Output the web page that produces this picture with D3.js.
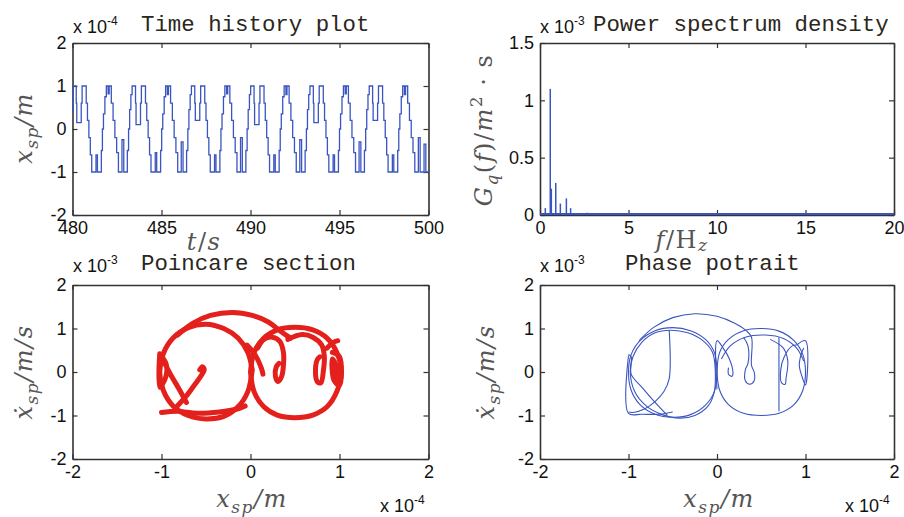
<!DOCTYPE html>
<html>
<head>
<script src="https://cdnjs.cloudflare.com/ajax/libs/d3/7.8.5/d3.min.js"></script>
<style>
  body { margin: 0; background: #fff; }
  .tick text { font-family: "Liberation Sans", Arial, sans-serif; font-size: 18px; fill: #111; }
  .domain, .tick line { stroke: #333; }
  .domain { stroke-width: 1.6px; }
  .title { font-family: "Liberation Mono", "Courier New", monospace; font-size: 22.4px; fill: #2b2620; }
  .expo { font-family: "Liberation Sans", Arial, sans-serif; font-size: 18px; fill: #111; }
  .mathlabel { font-family: "DejaVu Serif", serif; font-size: 24px; fill: #555; font-style: italic; letter-spacing: 1.5px; }
</style>
</head>
<body>
<div id="vis"></div>
<script>
// ---- time history (t in s, x in 1e-4 m) ----
const timeT = [480.00,
  480.02, 480.21, 480.24, 480.49, 480.54, 480.77, 480.84, 480.92, 481.00, 481.08, 481.32, 481.40, 481.62, 481.68, 481.74, 481.82, 481.90, 482.00, 482.06, 482.18, 482.28, 482.38, 482.48, 482.58, 482.78, 482.88, 483.08, 483.15, 483.21, 483.28,
  483.35, 483.54, 483.57, 483.82, 483.87, 484.10, 484.17, 484.25, 484.33, 484.41, 484.65, 484.73, 484.95, 485.01, 485.07, 485.15, 485.23, 485.33, 485.39, 485.51, 485.61, 485.71, 485.81, 485.91, 486.11, 486.21, 486.41, 486.48, 486.54, 486.61,
  486.68, 486.87, 486.90, 487.15, 487.20, 487.43, 487.50, 487.58, 487.66, 487.74, 487.98, 488.06, 488.28, 488.34, 488.40, 488.48, 488.56, 488.66, 488.72, 488.84, 488.94, 489.04, 489.14, 489.24, 489.44, 489.54, 489.74, 489.81, 489.87, 489.94,
  490.01, 490.20, 490.23, 490.48, 490.53, 490.76, 490.83, 490.91, 490.99, 491.07, 491.31, 491.39, 491.61, 491.67, 491.73, 491.81, 491.89, 491.99, 492.05, 492.17, 492.27, 492.37, 492.47, 492.57, 492.77, 492.87, 493.07, 493.14, 493.20, 493.27,
  493.34, 493.53, 493.56, 493.81, 493.86, 494.09, 494.16, 494.24, 494.32, 494.40, 494.64, 494.72, 494.94, 495.00, 495.06, 495.14, 495.22, 495.32, 495.38, 495.50, 495.60, 495.70, 495.80, 495.90, 496.10, 496.20, 496.40, 496.47, 496.53, 496.60,
  496.67, 496.86, 496.89, 497.14, 497.19, 497.42, 497.49, 497.57, 497.65, 497.73, 497.97, 498.05, 498.27, 498.33, 498.39, 498.47, 498.55, 498.65, 498.71, 498.83, 498.93, 499.03, 499.13, 499.23, 499.43, 499.53, 499.75, 499.85, 500.00];
const timeX = [0.4,
  1.0, 0.6, 0.15, 0.6, 1.0, 0.6, 0.2, -0.2, -0.6, -1.0, -0.6, -1.0, -0.5, 0.0, 0.35, 0.75, 1.0, 0.82, 1.0, 0.6, 0.2, -0.2, -0.55, -1.0, -0.25, -1.0, -0.5, 0.0, 0.45, 0.8,
  1.0, 0.6, 0.1, 0.6, 1.0, 0.6, 0.2, -0.2, -0.6, -1.0, -0.55, -1.0, -0.5, 0.0, 0.35, 0.75, 1.0, 0.8, 1.0, 0.6, 0.2, -0.2, -0.55, -1.0, -0.3, -1.0, -0.5, 0.0, 0.45, 0.8,
  1.0, 0.6, 0.2, 0.6, 1.0, 0.6, 0.2, -0.2, -0.6, -1.0, -0.6, -1.0, -0.5, 0.0, 0.35, 0.75, 1.0, 0.82, 1.0, 0.6, 0.2, -0.2, -0.55, -1.0, -0.2, -1.0, -0.5, 0.0, 0.45, 0.8,
  1.0, 0.6, 0.1, 0.6, 1.0, 0.6, 0.2, -0.2, -0.6, -1.0, -0.6, -1.0, -0.5, 0.0, 0.35, 0.75, 1.0, 0.8, 1.0, 0.6, 0.2, -0.2, -0.55, -1.0, -0.25, -1.0, -0.5, 0.0, 0.45, 0.8,
  1.0, 0.6, 0.15, 0.6, 1.0, 0.6, 0.2, -0.2, -0.6, -1.0, -0.6, -1.0, -0.5, 0.0, 0.35, 0.75, 1.0, 0.82, 1.0, 0.6, 0.2, -0.2, -0.55, -1.0, -0.3, -1.0, -0.5, 0.0, 0.45, 0.8,
  1.0, 0.6, 0.2, 0.6, 1.0, 0.6, 0.2, -0.2, -0.6, -1.0, -0.6, -1.0, -0.5, 0.0, 0.35, 0.75, 1.0, 0.8, 1.0, 0.6, 0.2, -0.2, -0.55, -1.0, -0.2, -1.0, -0.35, -1.0, -1.0];

// ---- power spectrum (f in Hz, G in 1e-3) ----
const psdF = [0.30, 0.58, 0.64, 0.89, 1.15, 1.49, 1.73, 2.67];
const psdG = [0.06, 1.10, 0.23, 0.28, 0.10, 0.145, 0.06, 0.02];

// ---- Poincare section traces ([x 1e-4, xdot 1e-3]) ----
const poinLeft = [[0.02,0.05],[-0.03,0.45],[-0.14,0.78],[-0.3,1.0],[-0.5,1.1],[-0.7,1.02],[-0.87,0.78],[-0.98,0.42],[-1.02,0.0],[-0.98,-0.42],[-0.87,-0.78],[-0.7,-1.0],[-0.5,-1.08],[-0.3,-1.02],[-0.14,-0.8],[-0.03,-0.45],[0.02,0.05]];
const poinRight = [[0.0,0.0],[0.04,0.45],[0.15,0.78],[0.3,0.97],[0.5,1.03],[0.7,0.97],[0.86,0.78],[0.97,0.45],[1.02,0.0],[0.97,-0.45],[0.86,-0.8],[0.7,-0.99],[0.5,-1.05],[0.3,-0.99],[0.15,-0.8],[0.04,-0.45],[0.0,0.0]];
const poinArc = [[-0.82,0.85],[-0.65,1.12],[-0.45,1.3],[-0.2,1.37],[0.02,1.3],[0.2,1.15],[0.33,0.95],[0.45,0.78]];
const poinHook1 = [[0.08,0.55],[0.15,0.75],[0.25,0.8],[0.33,0.7],[0.37,0.45],[0.37,0.15],[0.35,-0.1],[0.31,-0.22],[0.28,-0.1],[0.29,0.12],[0.32,0.2]];
const poinHook2 = [[0.42,0.75],[0.58,0.86],[0.7,0.8],[0.8,0.62],[0.83,0.35],[0.82,0.05],[0.79,-0.25],[0.75,-0.22],[0.73,0.0],[0.75,0.28],[0.78,0.35]];
const poinCross = [[-0.04,0.62],[0.05,0.4],[0.12,0.1],[0.14,-0.05]];
const poinTail = [[0.86,0.55],[0.93,0.68],[0.98,0.72]];
const poinFill = [[0.92,0.45],[1.0,0.35],[1.0,-0.3],[0.94,-0.2],[0.92,0.3],[0.97,0.1],[0.97,-0.2]];
const poinLeftHook = [[-0.84,-0.82],[-0.72,-0.55],[-0.63,-0.3],[-0.56,-0.1],[-0.52,0.05],[-0.54,0.12],[-0.57,0.05]];
const poinBottom = [[-1.0,-0.93],[-0.82,-0.9],[-0.6,-0.95],[-0.35,-0.92],[-0.15,-0.85],[-0.06,-0.78]];
const poinWedge = [[-1.02,0.42],[-1.02,-0.35],[-0.95,-0.1],[-0.95,0.2],[-1.0,0.35],[-0.9,-0.05],[-0.8,-0.4],[-0.72,-0.7]];
const poinTraces = [poinLeft, poinRight, poinArc, poinHook1, poinHook2, poinCross, poinTail, poinFill, poinLeftHook, poinBottom, poinWedge];

// ---- phase portrait traces ----
const phLeft1 = [[0.0,0.0],[-0.03,0.45],[-0.13,0.75],[-0.3,0.95],[-0.5,1.02],[-0.7,0.95],[-0.87,0.72],[-0.97,0.4],[-1.0,0.0],[-0.97,-0.42],[-0.87,-0.75],[-0.7,-0.97],[-0.5,-1.04],[-0.3,-0.98],[-0.13,-0.76],[-0.03,-0.45],[0.0,0.0]];
const phLeft2 = [[-0.02,0.05],[-0.05,0.45],[-0.16,0.72],[-0.33,0.9],[-0.52,0.96],[-0.7,0.9],[-0.85,0.68],[-0.95,0.35],[-0.98,0.0],[-0.93,-0.45],[-0.8,-0.78],[-0.62,-0.98],[-0.42,-1.06],[-0.25,-1.0],[-0.1,-0.78],[-0.03,-0.45],[-0.02,0.05]];
const phRight1 = [[0.0,0.0],[0.03,0.45],[0.13,0.75],[0.3,0.95],[0.5,1.0],[0.7,0.94],[0.87,0.72],[0.97,0.4],[1.0,0.0],[0.97,-0.42],[0.87,-0.75],[0.7,-0.95],[0.5,-1.0],[0.3,-0.95],[0.13,-0.75],[0.03,-0.42],[0.0,0.0]];
const phRight2 = [[0.05,0.3],[0.15,0.6],[0.32,0.8],[0.55,0.85],[0.75,0.77],[0.9,0.55],[0.98,0.25]];
const phArc = [[-0.88,0.72],[-0.72,1.02],[-0.5,1.25],[-0.25,1.34],[0.0,1.28],[0.2,1.12],[0.33,0.95],[0.39,0.8],[0.39,0.15],[0.42,0.0],[0.42,-0.2],[0.37,-0.28],[0.32,-0.2],[0.32,0.05],[0.35,0.2],[0.35,0.6],[0.3,0.8]];
const phLeftVert = [[-0.54,0.96],[-0.54,-0.15],[-0.6,-0.45],[-0.7,-0.68],[-0.82,-0.85],[-0.95,-0.93],[-1.0,-0.92]];
const phWedge = [[-1.0,0.4],[-0.97,0.35],[-0.97,-0.05],[-0.85,-0.35],[-0.7,-0.7],[-0.56,-1.0]];
const phBottom = [[-1.0,0.38],[-1.0,-0.95],[-0.85,-0.97],[-0.65,-0.97],[-0.5,-0.92]];
const phVert = [[0.7,0.8],[0.7,-0.9]];
const phRightBox = [[0.9,0.62],[1.0,0.72],[1.0,-0.3],[0.96,-0.1],[0.93,0.15],[0.95,0.4],[0.98,0.55]];
const phMid = [[0.0,-0.4],[0.0,0.72],[0.07,0.55],[0.14,0.3],[0.18,0.0],[0.17,-0.1],[0.13,-0.05],[0.13,0.1]];
const phLoop = [[0.6,0.75],[0.75,0.55],[0.8,0.25],[0.78,-0.15],[0.77,-0.28],[0.73,-0.25],[0.72,0.05],[0.76,0.35],[0.85,0.6],[0.9,0.62]];
const phaseTraces = [phLeft1, phLeft2, phRight1, phRight2, phArc, phLeftVert, phWedge, phBottom, phVert, phRightBox, phMid, phLoop];

// ---- ticks ----
const tTicks = [480, 485, 490, 495, 500];
const unitTicks = [-2, -1, 0, 1, 2];
const fTicks = [0, 5, 10, 15, 20];
const gTicks = [0, 0.5, 1, 1.5];

const W = 904, H = 517;
const blue = "#3a55c0", red = "#e3201b";
const svg = d3.select("#vis").append("svg").attr("width", W).attr("height", H);

function panel(box, xDom, yDom, xTicks, yTicks) {
  const x = d3.scaleLinear().domain(xDom).range([box.x0, box.x1]);
  const y = d3.scaleLinear().domain(yDom).range([box.y1, box.y0]);
  const g = svg.append("g");
  const fmt = d => String(d), none = () => "";
  g.append("g").attr("transform", `translate(0,${box.y1})`)
    .call(d3.axisBottom(x).tickValues(xTicks).tickFormat(fmt).tickSizeInner(-5).tickSizeOuter(0).tickPadding(6));
  g.append("g").attr("transform", `translate(0,${box.y0})`)
    .call(d3.axisTop(x).tickValues(xTicks).tickFormat(none).tickSizeInner(-5).tickSizeOuter(0));
  g.append("g").attr("transform", `translate(${box.x0},0)`)
    .call(d3.axisLeft(y).tickValues(yTicks).tickFormat(fmt).tickSizeInner(-5).tickSizeOuter(0).tickPadding(6));
  g.append("g").attr("transform", `translate(${box.x1},0)`)
    .call(d3.axisRight(y).tickValues(yTicks).tickFormat(none).tickSizeInner(-5).tickSizeOuter(0));
  g.selectAll(".tick line").attr("stroke-width", 1.2);
  return { x, y, g };
}

function expo(x, y, p) {
  const t = svg.append("text").attr("class", "expo").attr("x", x).attr("y", y);
  t.append("tspan").text("x 10");
  t.append("tspan").text(p).attr("dy", -8).style("font-size", "12px");
}

function mathLabel(cx, cy, parts, rotate, subDrop) {
  const t = svg.append("text").attr("class", "mathlabel").attr("text-anchor", "middle")
    .attr("transform", `translate(${cx},${cy})` + (rotate ? " rotate(-90)" : ""));
  let shift = 0;
  parts.forEach(p => {
    const s = t.append("tspan").text(p[0]);
    const want = p[2] === "sub" ? (subDrop || 6) : p[2] === "sup" ? -10 : 0;
    s.attr("dy", want - shift);
    shift = want;
    if (p[2]) s.style("font-size", "17px");
    if (!p[1]) s.style("font-style", "normal");
  });
}

function title(x, y, s) {
  svg.append("text").attr("class", "title").attr("x", x).attr("y", y).text(s);
}

// Time history
const p1 = panel({ x0: 72.5, x1: 428.5, y0: 43, y1: 215 }, [480, 500], [-2, 2], tTicks, unitTicks);
p1.g.append("path").datum(d3.range(timeT.length))
  .attr("fill", "none").attr("stroke", blue).attr("stroke-width", 1.3)
  .attr("d", d3.line().curve(d3.curveStepAfter).x(i => p1.x(timeT[i])).y(i => p1.y(timeX[i])));
expo(73, 33, "-4");
title(141, 31, "Time history plot");
mathLabel(32, 128, [["x", 1], ["sp", 1, "sub"], ["/m", 1]], true);
mathLabel(204, 250, [["t", 1], ["/", 0], ["s", 1]], false);

// Power spectrum density
const p2 = panel({ x0: 540, x1: 894, y0: 43, y1: 215 }, [0, 20], [0, 1.5], fTicks, gTicks);
p2.g.append("line").attr("x1", p2.x(0)).attr("x2", p2.x(20)).attr("y1", p2.y(0) - 1).attr("y2", p2.y(0) - 1)
  .attr("stroke", blue).attr("stroke-width", 2);
p2.g.selectAll("line.bar").data(psdF).join("line").attr("class", "bar")
  .attr("x1", d => p2.x(d)).attr("x2", d => p2.x(d))
  .attr("y1", p2.y(0)).attr("y2", (d, i) => p2.y(psdG[i]))
  .attr("stroke", blue).attr("stroke-width", 1.5);
expo(540, 33, "-3");
title(593, 31, "Power spectrum density");
mathLabel(492, 130, [["G", 1], ["q", 1, "sub"], ["(", 0], ["f", 1], [")/", 0], ["m", 1], ["2", 0, "sup"], [" · s", 0]], true);
mathLabel(682, 248, [["f", 1], ["/H", 0], ["z", 1, "sub"]], false, 3);

// Poincare section
const p3 = panel({ x0: 72.5, x1: 428.5, y0: 285, y1: 459 }, [-2, 2], [-2, 2], unitTicks, unitTicks);
const line3 = d3.line().curve(d3.curveCatmullRom.alpha(0.5)).x(d => p3.x(d[0])).y(d => p3.y(d[1]));
p3.g.selectAll("path.tr").data(poinTraces).join("path").attr("class", "tr")
  .attr("fill", "none").attr("stroke", red).attr("stroke-width", 5)
  .attr("stroke-linejoin", "round").attr("stroke-linecap", "round").attr("d", line3);
expo(73, 272, "-3");
title(141, 270, "Poincare section");
mathLabel(32, 372, [["ẋ", 1], ["sp", 1, "sub"], ["/m/s", 1]], true);
mathLabel(252, 507, [["x", 1], ["sp", 1, "sub"], ["/m", 1]], false);
expo(380, 512, "-4");

// Phase portrait
const p4 = panel({ x0: 540, x1: 894, y0: 285, y1: 459 }, [-2, 2], [-2, 2], unitTicks, unitTicks);
const line4 = d3.line().curve(d3.curveCatmullRom.alpha(0.5)).x(d => p4.x(d[0])).y(d => p4.y(d[1]));
p4.g.selectAll("path.tr").data(phaseTraces).join("path").attr("class", "tr")
  .attr("fill", "none").attr("stroke", blue).attr("stroke-width", 1.1)
  .attr("stroke-linejoin", "round").attr("d", line4);
expo(540, 272, "-3");
title(625, 270, "Phase potrait");
mathLabel(494, 372, [["ẋ", 1], ["sp", 1, "sub"], ["/m/s", 1]], true);
mathLabel(719, 507, [["x", 1], ["sp", 1, "sub"], ["/m", 1]], false);
expo(845, 512, "-4");
</script>
</body>
</html>
